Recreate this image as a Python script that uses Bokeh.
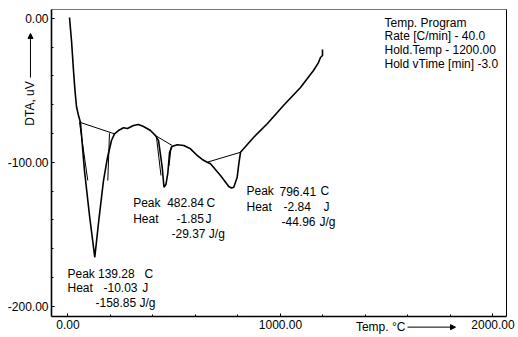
import math
from bokeh.plotting import figure
from bokeh.models import (Range1d, FixedTicker, NumeralTickFormatter, ColumnDataSource,
                          Arrow, NormalHead, LinearAxis)
from bokeh.core.properties import value
from bokeh.embed import file_html
from bokeh.resources import INLINE

FONT = "Liberation Sans"

# DTA curve (temperature in °C, signal in uV)
temp = [7.1, 16.5, 25.9, 32.9, 40.0, 49.4, 58.8, 77.6, 101.2, 126.1, 145.9, 167.1, 185.9,
        204.7, 218.8, 237.6, 261.2, 280.0, 308.2, 331.8, 355.3, 388.2, 411.8, 425.9, 443.3,
        451.8, 460.7, 469.6, 478.1, 489.4, 513.9, 544.9, 576.5, 608.0, 631.5, 655.1, 670.6,
        717.6, 756.7, 769.4, 780.2, 796.2, 803.8, 811.8, 872.9, 938.8, 1014.1, 1094.1,
        1155.3, 1178.8, 1188.2, 1197.6, 1197.6]
dta = [0.5, -15.5, -36.3, -50.2, -61.3, -67.6, -72.4, -105.8, -137.0, -166.0, -139.1, -112.7,
       -96.7, -84.9, -80.3, -78.0, -76.1, -76.6, -74.5, -73.8, -75.2, -78.0, -81.5, -84.9,
       -103.5, -117.4, -115.5, -107.8, -93.1, -89.1, -87.9, -88.4, -90.7, -95.3, -98.1,
       -100.0, -101.1, -109.2, -116.9, -117.9, -117.4, -110.4, -101.1, -93.1, -82.8, -73.1,
       -60.6, -48.1, -36.3, -30.8, -27.3, -25.9, -21.7]

# peak baselines and integration limits (segments)
seg_x0 = [54.1, 411.8, 655.1, 54.1, 195.3, 416.5, 485.6]
seg_y0 = [-72.2, -81.5, -100.0, -72.2, -79.9, -82.8, -89.1]
seg_x1 = [218.8, 490.4, 811.8, 93.2, 187.3, 437.6, 475.3]
seg_y1 = [-80.3, -88.4, -93.1, -112.7, -112.7, -109.2, -102.6]

# annotation texts
ann_text = ["Peak", "139.28", "C", "Heat", "-10.03", "J", "-158.85 J/g",
            "Peak", "482.84", "C", "Heat", "-1.85", "J", "-29.37 J/g",
            "Peak", "796.41", "C", "Heat", "-2.84", "J", "-44.96", "J/g",
            "Temp. Program", "Rate [C/min] - 40.0", "Hold.Temp - 1200.00",
            "Hold vTime [min] -3.0", "Temp. °C"]
ann_x = [-2.4, 141.2, 360.0, -2.4, 167.1, 349.2, 129.4,
         306.8, 466.8, 651.8, 306.8, 510.6, 647.1, 487.1,
         840.0, 995.3, 1188.2, 840.0, 1014.1, 1202.4, 1004.7, 1183.5,
         1489.4, 1489.4, 1489.4, 1489.4, 1354.8]
ann_y = [-177.3, -177.3, -177.3, -187.0, -187.0, -187.0, -197.8,
         -128.0, -128.0, -128.0, -139.1, -139.1, -139.1, -149.7,
         -120.1, -120.1, -120.1, -130.8, -130.8, -130.8, -141.4, -141.4,
         -3.5, -12.7, -22.1, -31.5, -214.5]

y_title = ["DTA, uV"]
y_title_x = [-178.8]
y_title_y = [-59.2]

x_ticks = [0, 1000, 2000]
x_minor = list(range(0, 2001, 200))
y_ticks = [0, -100, -200]
y_minor = list(range(-200, 1, 20))

# plot box (data limits of the framed area)
BOX_X = (-77.6, 2063.5)
BOX_Y = (-207.4, 6.0)

p = figure(width=518, height=337, output_backend="svg", toolbar_location=None,
           x_range=Range1d(-317.6, 2120.0), y_range=Range1d(-221.7, 12.29),
           x_axis_location=None, y_axis_location=None,
           min_border_left=0, min_border_right=0, min_border_top=0, min_border_bottom=0)
p.background_fill_color = "white"
p.border_fill_color = "white"
p.outline_line_color = None
p.xgrid.visible = False
p.ygrid.visible = False


def style(ax, ticks, minors, bounds, loc, labels=True):
    ax.ticker = FixedTicker(ticks=ticks, minor_ticks=minors)
    ax.formatter = NumeralTickFormatter(format="0.00")
    ax.bounds = bounds
    ax.fixed_location = loc
    ax.major_tick_in = 3
    ax.major_tick_out = 0
    ax.minor_tick_in = 2
    ax.minor_tick_out = 0
    ax.axis_line_color = "black"
    ax.major_tick_line_color = "black"
    ax.minor_tick_line_color = "black"
    ax.major_label_text_font = FONT
    ax.major_label_text_font_size = "12px" if labels else "0px"
    ax.major_label_text_color = "black"


left = LinearAxis()
style(left, y_ticks, y_minor, BOX_Y, BOX_X[0])
left.axis_line_width = 1.6
left.major_label_standoff = 3
p.add_layout(left, "left")

bottom = LinearAxis()
style(bottom, x_ticks, x_minor, BOX_X, BOX_Y[0])
bottom.axis_line_width = 1.6
bottom.major_label_standoff = 3
p.add_layout(bottom, "below")

top = LinearAxis()
style(top, [], [], BOX_X, BOX_Y[1], labels=False)
top.axis_line_color = "#777777"
top.axis_line_width = 1
p.add_layout(top, "above")

right = LinearAxis()
style(right, [], [], BOX_Y, BOX_X[1], labels=False)
right.axis_line_width = 1
p.add_layout(right, "right")

p.line(temp, dta, line_color="black", line_width=1.6)
p.segment(seg_x0, seg_y0, seg_x1, seg_y1, line_color="black", line_width=1)

src = ColumnDataSource(dict(x=ann_x, y=ann_y, t=ann_text))
p.text("x", "y", text="t", source=src, text_font=value(FONT), text_font_size="12px",
       text_align="left", text_baseline="middle", text_color="black")
p.text(y_title_x, y_title_y, text=y_title, angle=math.pi / 2, text_font=value(FONT),
       text_font_size="12px", text_align="center", text_baseline="middle",
       text_color="black")

p.add_layout(Arrow(x_start=-176.5, y_start=-41.2, x_end=-176.5, y_end=-10.6,
                   line_color="black", line_width=1,
                   end=NormalHead(size=5, fill_color="black", line_color="black")))
p.add_layout(Arrow(x_start=1597.6, y_start=-214.5, x_end=1823.5, y_end=-214.5,
                   line_color="black", line_width=1,
                   end=NormalHead(size=5, fill_color="black", line_color="black")))

open("out.html", "w").write(file_html(p, INLINE))
